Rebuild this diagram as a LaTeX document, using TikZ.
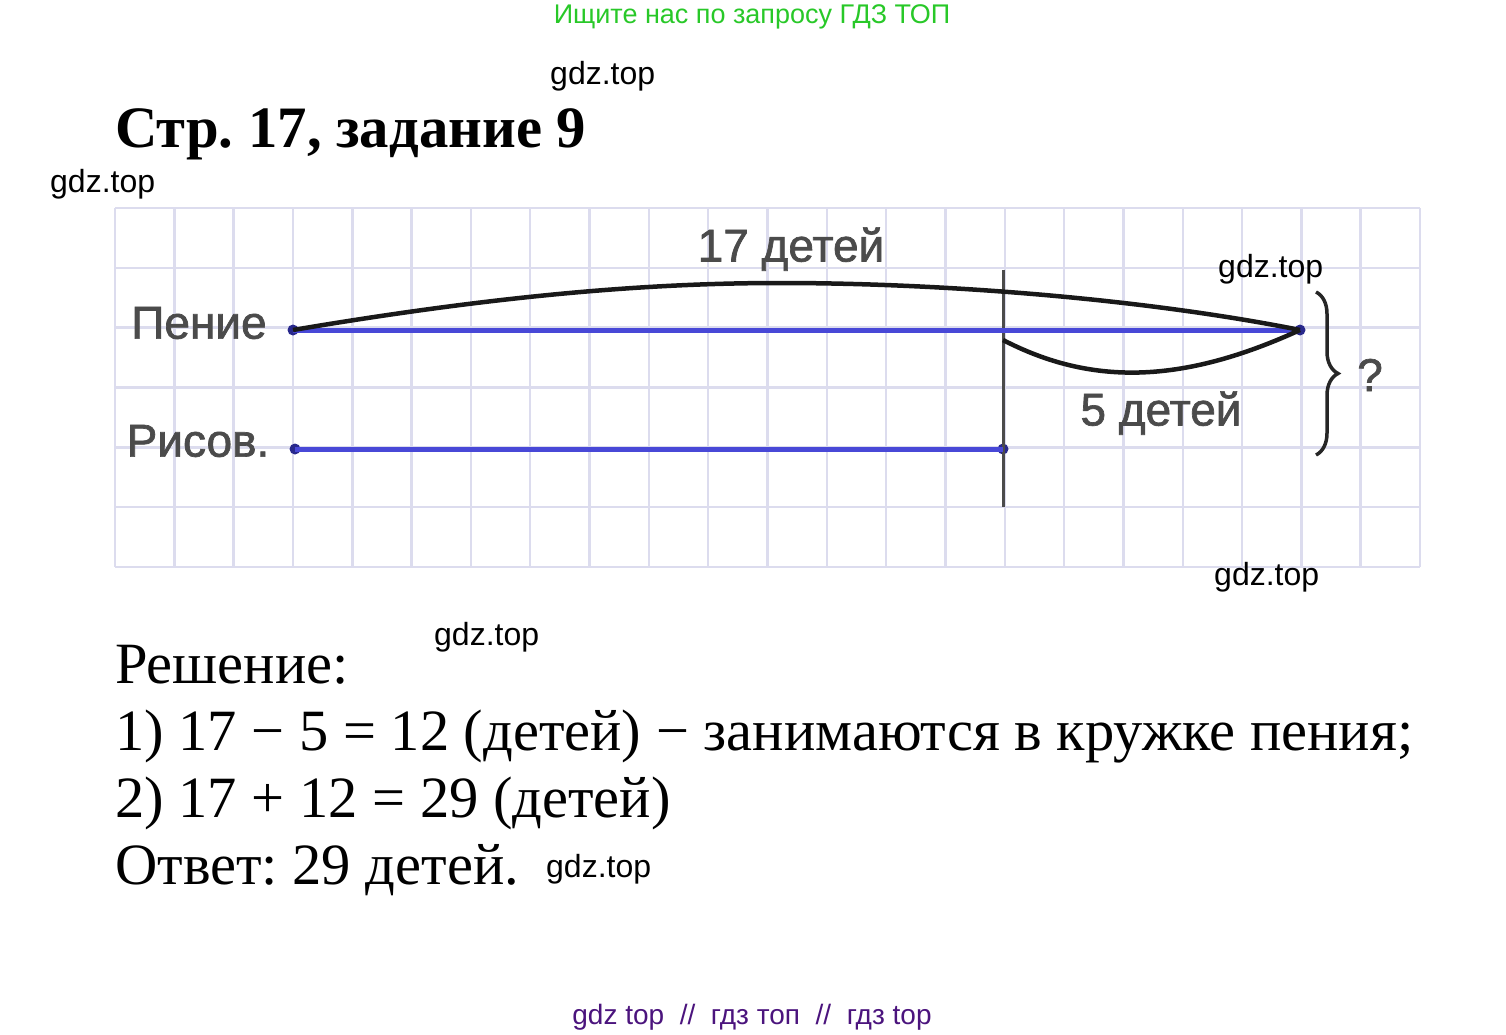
\documentclass[tikz,border=0pt]{standalone}
\usepackage{fontspec}
\setmainfont{Liberation Serif}
\setsansfont{Liberation Sans}
\newfontfamily\lblfont[FakeBold=1.5]{Liberation Sans}
\usetikzlibrary{decorations.pathreplacing}
\definecolor{gridc}{RGB}{220,220,238}
\definecolor{blueline}{RGB}{72,72,215}
\definecolor{dotc}{RGB}{40,40,140}
\definecolor{labelc}{RGB}{75,75,75}
\definecolor{wmgreen}{RGB}{40,200,40}
\definecolor{wmpurple}{RGB}{75,20,125}
\tikzset{
  wm/.style={font=\sffamily\fontsize{32}{32}\selectfont, inner sep=0pt, anchor=base west},
  lbl/.style={font=\lblfont\fontsize{46}{46}\selectfont, text=labelc, inner sep=0pt},
  sol/.style={font=\fontsize{58.5}{58.5}\selectfont, inner sep=0pt, anchor=base west},
  seg/.style={blueline, line width=5pt},
  arc/.style={black!90, line width=4.5pt},
  dotp/.style={circle, fill=dotc, inner sep=0pt, minimum size=11pt}
}
\frenchspacing
\begin{document}
\begin{tikzpicture}[x=1pt,y=-1pt]
\useasboundingbox (0,0) rectangle (1506,1035);
% grid
\foreach \k in {0,...,22} \draw[gridc, line width=2.5pt] (115+59.32*\k,208) -- (115+59.32*\k,567);
\foreach \k in {0,...,6} \draw[gridc, line width=2.5pt] (115,208+59.83*\k) -- (1420,208+59.83*\k);
% points
\node[dotp] (p1) at (293,330) {};
\node[dotp] (p2) at (1300,330) {};
\node[dotp] (r1) at (295,449) {};
\node[dotp] (r2) at (1003,449) {};
\coordinate (vt) at (1003,270);
\coordinate (vb) at (1003,507);
\coordinate (m1) at (1003,340);
% vertical divider
\draw[labelc, line width=3pt] (vt) -- (vb);
% segments
\draw[seg] (p1.center) -- (p2.center);
\draw[seg] (r1.center) -- (r2.center);
% arcs
\coordinate (top) at (780,283);
\draw[arc] (p1.center) .. controls (500,295) and (650,283) .. (top) .. controls (950,283) and (1150,300) .. (p2.center);
\draw[arc] (m1) .. controls (1090,385) and (1180,385) .. (p2.center);
% brace
\coordinate (bt) at (1316,292);
\coordinate (bb) at (1316,455);
\draw[black!85, line width=3.5pt, decorate, decoration={brace, amplitude=22pt, aspect=0.5}] (bt) -- (bb);
% labels
\node[lbl] (lp) at (199,323) {Пение};
\node[lbl] (lr) at (198,441) {Рисов.};
\node[lbl] (l17) at (791,249) {17 детей};
\node[lbl] (l5) at (1161,413) {5 детей};
\node[lbl] (q) at (1370,375) {?};
% title
\node[font=\bfseries\fontsize{58.7}{58.7}\selectfont, inner sep=0pt, anchor=base west] (title) at (115,148) {Стр. 17, задание 9};
% solution
\node[sol] (s1) at (115,683) {Решение:};
\node[sol] (s2) at (115,750) {1) 17 − 5 = 12 (детей) − занимаются в кружке пения;};
\node[sol] (s3) at (115,817) {2) 17 + 12 = 29 (детей)};
\node[sol] (s4) at (115,884) {Ответ: 29 детей.};
% watermarks
\node[font=\sffamily\fontsize{27}{27}\selectfont, text=wmgreen, inner sep=0pt, anchor=base] (wt) at (752,24) {Ищите нас по запросу ГДЗ ТОП};
\node[font=\sffamily\fontsize{28}{28}\selectfont, text=wmpurple, inner sep=0pt, anchor=base] (wb) at (752,1024) {gdz top \ // \ гдз топ \ // \ гдз top};
\node[wm] (w1) at (550,85) {gdz.top};
\node[wm] (w2) at (50,193) {gdz.top};
\node[wm] (w3) at (1218,277) {gdz.top};
\node[wm] (w4) at (1214,585) {gdz.top};
\node[wm] (w5) at (434,645) {gdz.top};
\node[wm] (w6) at (546,877) {gdz.top};
\end{tikzpicture}
\end{document}
